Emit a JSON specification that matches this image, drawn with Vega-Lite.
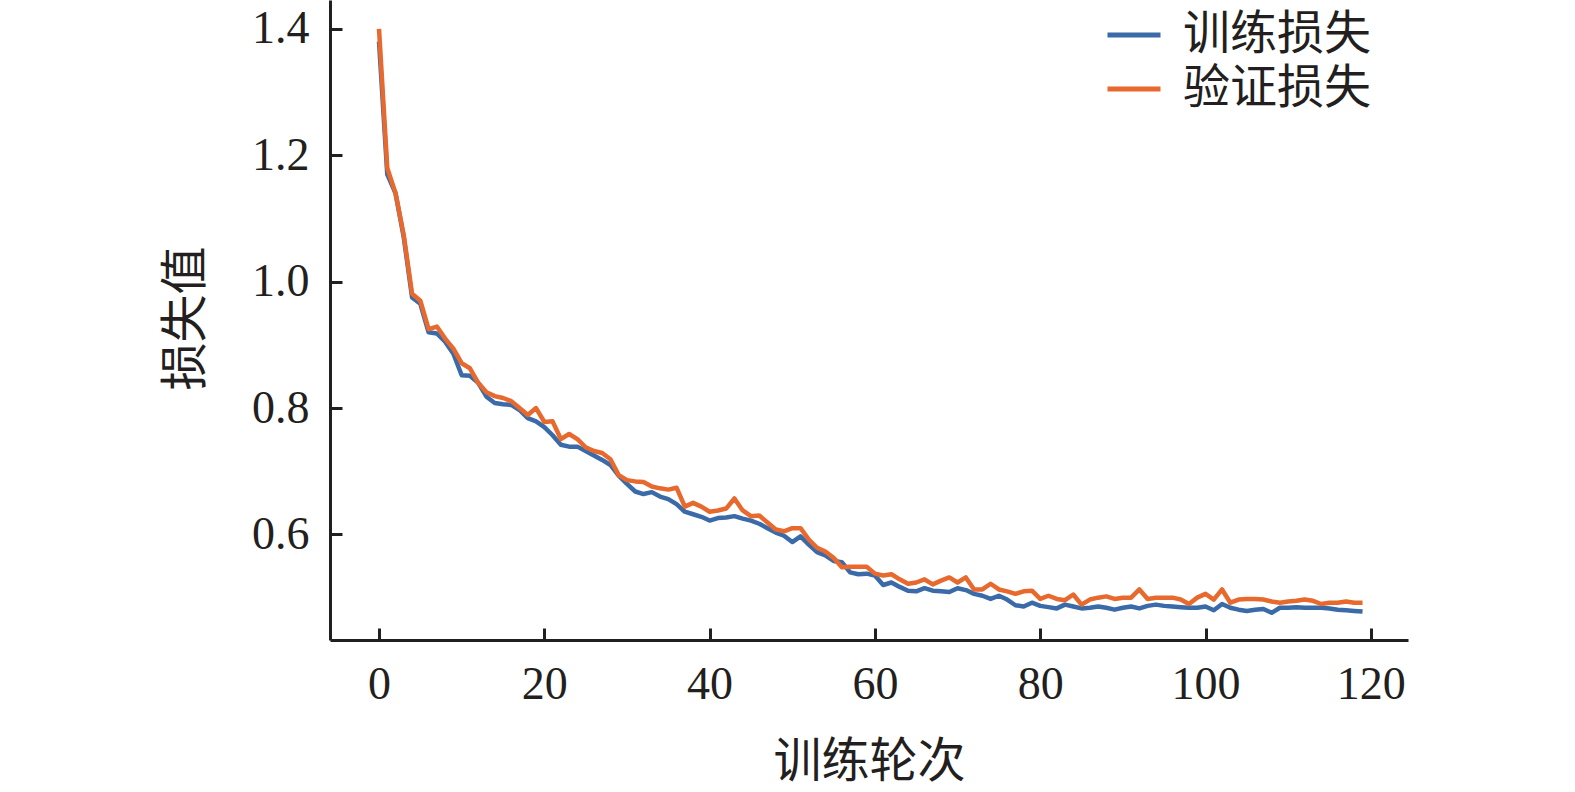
{
  "$schema": "https://vega.github.io/schema/vega-lite/v6.json",
  "autosize": "none",
  "padding": {"left": 330, "top": 0, "right": 167, "bottom": 152},
  "width": 1078,
  "height": 640,
  "background": "white",
  "config": {
    "view": {"stroke": null},
    "axis": {
      "grid": false,
      "domainColor": "#231f20",
      "domainWidth": 3,
      "tickColor": "#231f20",
      "tickWidth": 3,
      "tickSize": -12,
      "labelFont": "Liberation Serif",
      "labelFontSize": 46,
      "labelColor": "#231f20",
      "titleFont": "Liberation Serif, Noto Sans CJK SC",
      "titleFontSize": 48,
      "titleFontWeight": "normal",
      "titleColor": "#231f20"
    },
    "legend": {
      "labelFont": "Liberation Serif, Noto Sans CJK SC",
      "labelFontSize": 47,
      "labelColor": "#231f20",
      "labelLimit": 0
    }
  },
  "data": {
    "values": [
      {"epoch": 0, "train": 1.38, "val": 1.4},
      {"epoch": 1, "train": 1.17, "val": 1.18},
      {"epoch": 2, "train": 1.14, "val": 1.14},
      {"epoch": 3, "train": 1.07, "val": 1.073},
      {"epoch": 4, "train": 0.975, "val": 0.981},
      {"epoch": 5, "train": 0.965, "val": 0.97},
      {"epoch": 6, "train": 0.92, "val": 0.925},
      {"epoch": 7, "train": 0.918, "val": 0.929},
      {"epoch": 8, "train": 0.905, "val": 0.91},
      {"epoch": 9, "train": 0.886, "val": 0.894},
      {"epoch": 10, "train": 0.852, "val": 0.871},
      {"epoch": 11, "train": 0.851, "val": 0.863},
      {"epoch": 12, "train": 0.84, "val": 0.84},
      {"epoch": 13, "train": 0.818, "val": 0.825},
      {"epoch": 14, "train": 0.808, "val": 0.819},
      {"epoch": 15, "train": 0.806, "val": 0.816},
      {"epoch": 16, "train": 0.805, "val": 0.811},
      {"epoch": 17, "train": 0.797, "val": 0.8},
      {"epoch": 18, "train": 0.784, "val": 0.789},
      {"epoch": 19, "train": 0.779, "val": 0.8},
      {"epoch": 20, "train": 0.77, "val": 0.778},
      {"epoch": 21, "train": 0.757, "val": 0.779},
      {"epoch": 22, "train": 0.742, "val": 0.751},
      {"epoch": 23, "train": 0.739, "val": 0.759},
      {"epoch": 24, "train": 0.739, "val": 0.751},
      {"epoch": 25, "train": 0.732, "val": 0.738},
      {"epoch": 26, "train": 0.725, "val": 0.732},
      {"epoch": 27, "train": 0.718, "val": 0.729},
      {"epoch": 28, "train": 0.71, "val": 0.719},
      {"epoch": 29, "train": 0.693, "val": 0.694},
      {"epoch": 30, "train": 0.68, "val": 0.686},
      {"epoch": 31, "train": 0.668, "val": 0.684},
      {"epoch": 32, "train": 0.664, "val": 0.683},
      {"epoch": 33, "train": 0.667, "val": 0.676},
      {"epoch": 34, "train": 0.66, "val": 0.673},
      {"epoch": 35, "train": 0.656, "val": 0.671},
      {"epoch": 36, "train": 0.648, "val": 0.674},
      {"epoch": 37, "train": 0.636, "val": 0.644},
      {"epoch": 38, "train": 0.632, "val": 0.65},
      {"epoch": 39, "train": 0.628, "val": 0.644},
      {"epoch": 40, "train": 0.622, "val": 0.636},
      {"epoch": 41, "train": 0.626, "val": 0.638},
      {"epoch": 42, "train": 0.627, "val": 0.641},
      {"epoch": 43, "train": 0.629, "val": 0.657},
      {"epoch": 44, "train": 0.625, "val": 0.638},
      {"epoch": 45, "train": 0.622, "val": 0.629},
      {"epoch": 46, "train": 0.617, "val": 0.63},
      {"epoch": 47, "train": 0.61, "val": 0.619},
      {"epoch": 48, "train": 0.603, "val": 0.608},
      {"epoch": 49, "train": 0.598, "val": 0.605},
      {"epoch": 50, "train": 0.588, "val": 0.61},
      {"epoch": 51, "train": 0.597, "val": 0.61},
      {"epoch": 52, "train": 0.584, "val": 0.592},
      {"epoch": 53, "train": 0.572, "val": 0.579},
      {"epoch": 54, "train": 0.567, "val": 0.573},
      {"epoch": 55, "train": 0.558, "val": 0.563},
      {"epoch": 56, "train": 0.556, "val": 0.548},
      {"epoch": 57, "train": 0.54, "val": 0.549},
      {"epoch": 58, "train": 0.537, "val": 0.549},
      {"epoch": 59, "train": 0.538, "val": 0.549},
      {"epoch": 60, "train": 0.535, "val": 0.538},
      {"epoch": 61, "train": 0.52, "val": 0.535},
      {"epoch": 62, "train": 0.524, "val": 0.537},
      {"epoch": 63, "train": 0.517, "val": 0.529},
      {"epoch": 64, "train": 0.511, "val": 0.522},
      {"epoch": 65, "train": 0.51, "val": 0.524},
      {"epoch": 66, "train": 0.515, "val": 0.529},
      {"epoch": 67, "train": 0.511, "val": 0.521},
      {"epoch": 68, "train": 0.51, "val": 0.527},
      {"epoch": 69, "train": 0.509, "val": 0.532},
      {"epoch": 70, "train": 0.515, "val": 0.524},
      {"epoch": 71, "train": 0.512, "val": 0.532},
      {"epoch": 72, "train": 0.506, "val": 0.513},
      {"epoch": 73, "train": 0.503, "val": 0.513},
      {"epoch": 74, "train": 0.498, "val": 0.522},
      {"epoch": 75, "train": 0.503, "val": 0.513},
      {"epoch": 76, "train": 0.497, "val": 0.51},
      {"epoch": 77, "train": 0.488, "val": 0.506},
      {"epoch": 78, "train": 0.486, "val": 0.51},
      {"epoch": 79, "train": 0.492, "val": 0.511},
      {"epoch": 80, "train": 0.487, "val": 0.498},
      {"epoch": 81, "train": 0.485, "val": 0.503},
      {"epoch": 82, "train": 0.483, "val": 0.498},
      {"epoch": 83, "train": 0.489, "val": 0.496},
      {"epoch": 84, "train": 0.486, "val": 0.505},
      {"epoch": 85, "train": 0.483, "val": 0.489},
      {"epoch": 86, "train": 0.484, "val": 0.497},
      {"epoch": 87, "train": 0.486, "val": 0.5},
      {"epoch": 88, "train": 0.484, "val": 0.502},
      {"epoch": 89, "train": 0.481, "val": 0.498},
      {"epoch": 90, "train": 0.484, "val": 0.5},
      {"epoch": 91, "train": 0.486, "val": 0.5},
      {"epoch": 92, "train": 0.483, "val": 0.513},
      {"epoch": 93, "train": 0.487, "val": 0.498},
      {"epoch": 94, "train": 0.489, "val": 0.5},
      {"epoch": 95, "train": 0.487, "val": 0.5},
      {"epoch": 96, "train": 0.486, "val": 0.5},
      {"epoch": 97, "train": 0.485, "val": 0.497},
      {"epoch": 98, "train": 0.484, "val": 0.49},
      {"epoch": 99, "train": 0.484, "val": 0.5},
      {"epoch": 100, "train": 0.486, "val": 0.506},
      {"epoch": 101, "train": 0.48, "val": 0.497},
      {"epoch": 102, "train": 0.49, "val": 0.513},
      {"epoch": 103, "train": 0.484, "val": 0.492},
      {"epoch": 104, "train": 0.481, "val": 0.497},
      {"epoch": 105, "train": 0.479, "val": 0.498},
      {"epoch": 106, "train": 0.481, "val": 0.498},
      {"epoch": 107, "train": 0.482, "val": 0.497},
      {"epoch": 108, "train": 0.476, "val": 0.494},
      {"epoch": 109, "train": 0.484, "val": 0.492},
      {"epoch": 110, "train": 0.484, "val": 0.494},
      {"epoch": 111, "train": 0.485, "val": 0.495},
      {"epoch": 112, "train": 0.484, "val": 0.497},
      {"epoch": 113, "train": 0.484, "val": 0.495},
      {"epoch": 114, "train": 0.484, "val": 0.49},
      {"epoch": 115, "train": 0.483, "val": 0.492},
      {"epoch": 116, "train": 0.481, "val": 0.492},
      {"epoch": 117, "train": 0.48, "val": 0.494},
      {"epoch": 118, "train": 0.479, "val": 0.492},
      {"epoch": 119, "train": 0.478, "val": 0.492}
    ]
  },
  "transform": [
    {"fold": ["train", "val"], "as": ["series", "loss"]}
  ],
  "mark": {"type": "line", "strokeWidth": 4.5, "strokeJoin": "round", "clip": true},
  "encoding": {
    "x": {
      "field": "epoch",
      "type": "quantitative",
      "scale": {"domain": [-5.93, 124.5], "nice": false, "zero": false},
      "axis": {
        "title": "训练轮次",
        "values": [0, 20, 40, 60, 80, 100, 120],
        "labelPadding": 34,
        "labelFlush": false,
        "titleY": 122,
        "titleBaseline": "middle"
      }
    },
    "y": {
      "field": "loss",
      "type": "quantitative",
      "scale": {"domain": [0.433, 1.4458], "nice": false, "zero": false},
      "axis": {
        "title": "损失值",
        "values": [0.6, 0.8, 1.0, 1.2, 1.4],
        "format": ".1f",
        "labelPadding": 33,
        "labelFlush": false,
        "titleAngle": -90,
        "titleX": -144,
        "titleY": 318,
        "titleAlign": "center",
        "titleBaseline": "middle"
      }
    },
    "color": {
      "field": "series",
      "type": "nominal",
      "scale": {"domain": ["train", "val"], "range": ["#3a6ba8", "#e8692d"]},
      "legend": {
        "title": null,
        "orient": "none",
        "legendX": 775,
        "legendY": 6,
        "padding": 0,
        "symbolType": "stroke",
        "symbolSize": 2809,
        "symbolStrokeWidth": 5,
        "labelOffset": 20,
        "rowPadding": 2,
        "labelExpr": "datum.label == 'train' ? '训练损失' : '验证损失'"
      }
    }
  }
}
